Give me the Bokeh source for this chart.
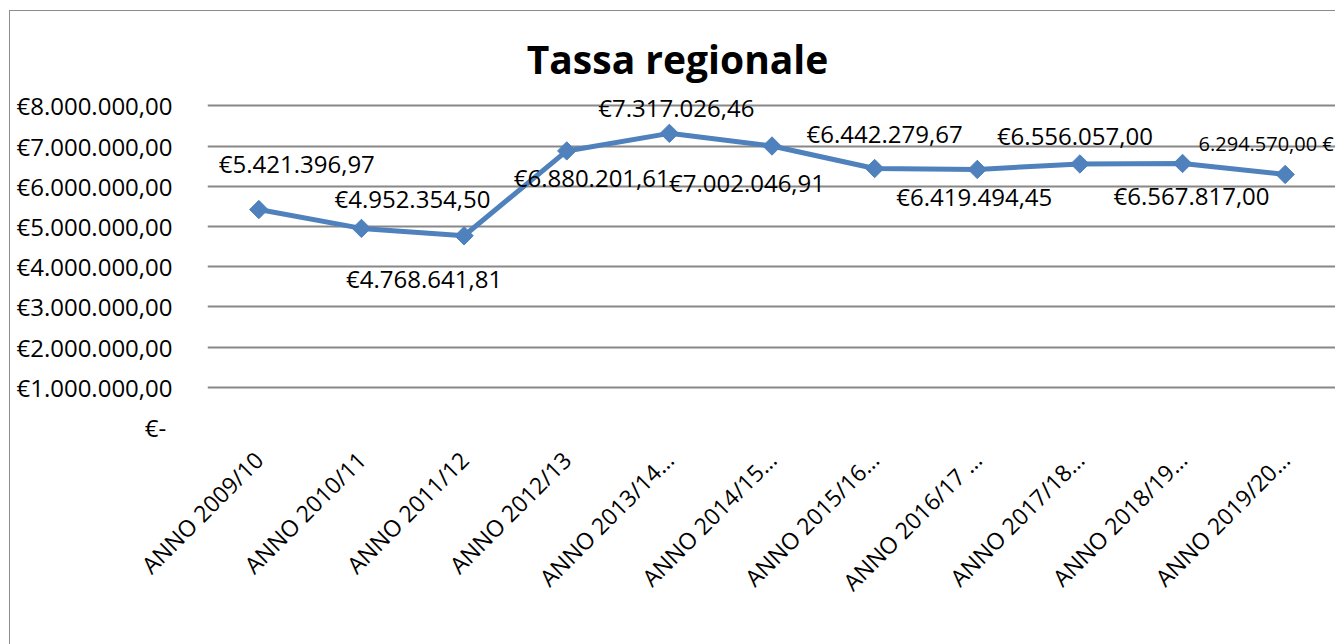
from bokeh.plotting import figure
from bokeh.models import Label, FactorRange, Range1d, CustomJSTickFormatter, ColumnDataSource, FixedTicker
from bokeh.embed import file_html
from bokeh.resources import INLINE
import math

# ---- data ----
categories = ["ANNO 2009/10", "ANNO 2010/11", "ANNO 2011/12", "ANNO 2012/13",
              "ANNO 2013/14…", "ANNO 2014/15…", "ANNO 2015/16…", "ANNO 2016/17 …",
              "ANNO 2017/18…", "ANNO 2018/19…", "ANNO 2019/20…"]
values = [5421396.97, 4952354.50, 4768641.81, 6880201.61, 7317026.46, 7002046.91,
          6442279.67, 6419494.45, 6556057.00, 6567817.00, 6294570.00]
y_ticks = [0, 1000000, 2000000, 3000000, 4000000, 5000000, 6000000, 7000000, 8000000]
title_text = "Tassa regionale"

# ---- label placement (styling, screen px offsets) ----
label_dx = [38, 51, -40, 25, 7, -25, 10, -3, -5, 9, -19]
label_dy = [46, 30, -43, -27, 26, -36, 35, -27, 28, -32, 31]
label_suffix_style = [False] * 10 + [True]

FONT = "Open Sans"
BLUE = "#4f81bd"


def fmt_it(v):
    s = f"{v:,.2f}"
    return s.replace(",", "X").replace(".", ",").replace("X", ".")


p = figure(width=1326, height=634, x_range=FactorRange(*categories),
           y_range=Range1d(0, 10000000), output_backend="svg", toolbar_location=None,
           min_border_left=197, min_border_right=0, min_border_top=14, min_border_bottom=218)
p.margin = (10, 0, 0, 9)
p.title = None
p.outline_line_color = None
p.background_fill_color = "white"
p.border_fill_color = "white"
p.styles = {"border-left": "1px solid #8c8c8c", "border-top": "1px solid #8c8c8c"}

src = ColumnDataSource(dict(x=categories, y=values))
p.line("x", "y", source=src, line_color=BLUE, line_width=5)
p.scatter("x", "y", source=src, marker="square", angle=math.pi / 4, size=13,
          fill_color=BLUE, line_color=BLUE)

# axes
p.yaxis.ticker = FixedTicker(ticks=y_ticks)
p.yaxis.formatter = CustomJSTickFormatter(code="""
if (tick == 0) { return "€-\u00a0"; }
var s = tick.toFixed(2);
var parts = s.split(".");
var intp = parts[0].replace(/\\B(?=(\\d{3})+(?!\\d))/g, ".");
return "€" + intp + "," + parts[1];
""")
p.yaxis.axis_line_color = None
p.yaxis.major_tick_line_color = None
p.yaxis.minor_tick_line_color = None
p.yaxis.major_label_standoff = 29
p.yaxis.major_label_text_font = FONT
p.yaxis.major_label_text_font_size = "24px"
p.yaxis.major_label_text_color = "black"

p.xaxis.axis_line_color = None
p.xaxis.major_tick_line_color = None
p.xaxis.minor_tick_line_color = None
p.xaxis.major_label_orientation = math.pi / 4
p.xaxis.major_label_standoff = 22
p.xaxis.major_label_text_font = FONT
p.xaxis.major_label_text_font_size = "23px"
p.xaxis.major_label_text_color = "black"

p.xgrid.grid_line_color = None
p.ygrid.grid_line_color = "#888888"
p.ygrid.grid_line_width = 2
p.ygrid.ticker = FixedTicker(ticks=y_ticks)

# data labels
for i, (c, v) in enumerate(zip(categories, values)):
    if label_suffix_style[i]:
        txt = fmt_it(v) + " €"
        fs = "20px"
    else:
        txt = "€" + fmt_it(v)
        fs = "24px"
    p.add_layout(Label(x=i + 0.5, y=v, text=txt, x_offset=label_dx[i], y_offset=label_dy[i],
                       text_align="center", text_baseline="middle", text_font=FONT,
                       text_font_size=fs, text_color="black"))

# title (screen units are relative to the plot frame)
p.add_layout(Label(x=470, y=369, x_units="screen", y_units="screen", text=title_text,
                   text_align="center", text_baseline="middle", text_font=FONT,
                   text_font_style="bold", text_font_size="39px", text_color="black"))

open("out.html", "w").write(file_html(p, INLINE))
